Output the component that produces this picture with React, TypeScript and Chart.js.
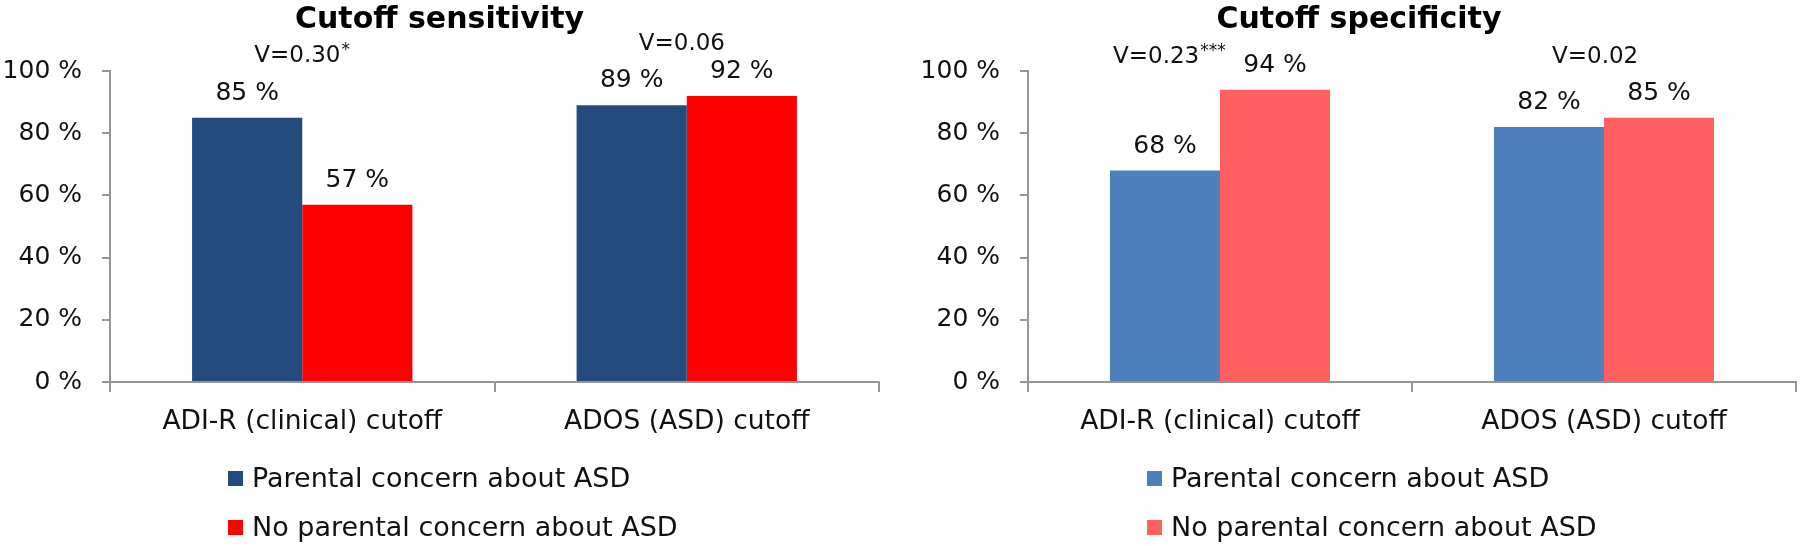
import React, { useEffect, useRef } from "react";
import { Chart, registerables } from "chart.js";

Chart.register(...registerables);

// ---------- data ----------
const categories = ["ADI-R (clinical) cutoff", "ADOS (ASD) cutoff"];
const seriesNames = ["Parental concern about ASD", "No parental concern about ASD"];
const sensitivityParental = [85, 89];
const sensitivityNoParental = [57, 92];
const specificityParental = [68, 82];
const specificityNoParental = [94, 85];
const sensitivityEffect = ["V=0.30*", "V=0.06"];
const specificityEffect = ["V=0.23***", "V=0.02"];
const yTickValues = [0, 20, 40, 60, 80, 100];
const sensitivityTitle = "Cutoff sensitivity";
const specificityTitle = "Cutoff specificity";

// ---------- placement / style ----------
const FONT = "'DejaVu Sans', 'Liberation Sans', Arial, sans-serif";
const AXIS_GREY = "#969696";
const TEXT = "#111111";
// effect-size note anchors: px offset from category centre, height in axis units
const sensitivityNotePlace = [
  { dx: -48, v: 102.9 },
  { dx: -48, v: 106.8 },
];
const specificityNotePlace = [
  { dx: -107, v: 102.6 },
  { dx: -52, v: 102.6 },
];

type PanelProps = {
  left: number;
  width: number;
  axisWidth: number;
  padRight: number;
  title: string;
  a: number[];
  b: number[];
  colors: [string, string];
  notes: string[];
  place: { dx: number; v: number }[];
  legendLeft: number;
};

const valueLabelPlugin = {
  id: "valueLabels",
  afterDatasetsDraw(chart: any) {
    const ctx = chart.ctx;
    ctx.save();
    ctx.font = `25px ${FONT}`;
    ctx.fillStyle = TEXT;
    ctx.textAlign = "center";
    ctx.textBaseline = "alphabetic";
    chart.data.datasets.forEach((ds: any, di: number) => {
      const meta = chart.getDatasetMeta(di);
      meta.data.forEach((bar: any, i: number) => {
        ctx.fillText(`${ds.data[i]} %`, bar.x, bar.y - 18);
      });
    });
    ctx.restore();
  },
};

const notePlugin = {
  id: "effectNotes",
  afterDraw(chart: any) {
    const opts = chart.options.plugins.effectNotes;
    if (!opts) return;
    const ctx = chart.ctx;
    const xs = chart.scales.x;
    const ys = chart.scales.y;
    ctx.save();
    ctx.fillStyle = TEXT;
    ctx.textAlign = "left";
    ctx.textBaseline = "alphabetic";
    opts.notes.forEach((txt: string, i: number) => {
      const p = opts.place[i];
      const x = xs.getPixelForValue(i) + p.dx;
      const y = ys.getPixelForValue(p.v);
      const m = txt.match(/^(.*?)(\**)$/);
      const main = m ? m[1] : txt;
      const stars = m ? m[2] : "";
      ctx.font = `23px ${FONT}`;
      ctx.fillText(main, x, y);
      if (stars) {
        const w = ctx.measureText(main).width;
        ctx.font = `17px ${FONT}`;
        ctx.fillText(stars, x + w + 1, y - 7);
      }
    });
    ctx.restore();
  },
};

function Panel(props: PanelProps) {
  const ref = useRef<HTMLCanvasElement | null>(null);
  useEffect(() => {
    if (!ref.current) return;
    const chart = new Chart(ref.current, {
      type: "bar",
      data: {
        labels: categories,
        datasets: [
          {
            label: seriesNames[0],
            data: props.a,
            backgroundColor: props.colors[0],
            borderWidth: 0,
            categoryPercentage: 0.573,
            barPercentage: 1,
          },
          {
            label: seriesNames[1],
            data: props.b,
            backgroundColor: props.colors[1],
            borderWidth: 0,
            categoryPercentage: 0.573,
            barPercentage: 1,
          },
        ],
      },
      options: {
        responsive: false,
        animation: false,
        layout: { padding: { left: 0, right: props.padRight, top: 0, bottom: 0 } },
        plugins: {
          legend: { display: false },
          tooltip: { enabled: false },
          title: {
            display: true,
            text: props.title,
            color: "#000",
            font: { family: FONT, size: 30, weight: "bold" },
            padding: { top: 2, bottom: 33 },
          },
          effectNotes: { notes: props.notes, place: props.place },
        } as any,
        scales: {
          x: {
            grid: {
              offset: true,
              drawOnChartArea: false,
              drawTicks: true,
              tickLength: 10,
              color: AXIS_GREY,
              lineWidth: 2,
            },
            border: { display: true, color: AXIS_GREY, width: 2 },
            ticks: {
              color: TEXT,
              font: { family: FONT, size: 26.5 },
              padding: 14,
              maxRotation: 0,
            },
            afterFit: (s: any) => {
              s.height = 164;
            },
          },
          y: {
            min: 0,
            max: 100,
            afterBuildTicks: (s: any) => {
              s.ticks = yTickValues.map((v) => ({ value: v }));
            },
            grid: {
              drawOnChartArea: false,
              drawTicks: true,
              tickLength: 8,
              color: AXIS_GREY,
              lineWidth: 2,
            },
            border: { display: true, color: AXIS_GREY, width: 2 },
            ticks: {
              color: TEXT,
              font: { family: FONT, size: 25 },
              padding: 20,
              callback: (v: any) => `${v} %`,
            },
            afterFit: (s: any) => {
              s.width = props.axisWidth;
            },
          },
        },
      },
      plugins: [valueLabelPlugin, notePlugin],
    } as any);
    return () => chart.destroy();
  }, []);

  return (
    <>
      <canvas
        ref={ref}
        width={props.width}
        height={546}
        style={{ position: "absolute", left: props.left, top: 0, width: props.width, height: 546 }}
      />
      <div
        style={{
          position: "absolute",
          left: props.legendLeft,
          top: 463,
          fontFamily: FONT,
          fontSize: 27,
          color: TEXT,
        }}
      >
        {seriesNames.map((n, i) => (
          <div
            key={n}
            style={{
              display: "flex",
              alignItems: "center",
              height: 30,
              lineHeight: "30px",
              marginBottom: i === 0 ? 19 : 0,
              whiteSpace: "nowrap",
            }}
          >
            <span
              style={{
                display: "inline-block",
                width: 15,
                height: 15,
                background: props.colors[i],
                marginRight: 9,
              }}
            />
            <span>{n}</span>
          </div>
        ))}
      </div>
    </>
  );
}

export default function App() {
  return (
    <div
      style={{
        position: "absolute",
        left: 0,
        top: 0,
        width: 1800,
        height: 546,
        background: "#fff",
        overflow: "hidden",
      }}
    >
      <Panel
        left={0}
        width={890}
        axisWidth={110}
        padRight={11}
        title={sensitivityTitle}
        a={sensitivityParental}
        b={sensitivityNoParental}
        colors={["#234A7D", "#FF0000"]}
        notes={sensitivityEffect}
        place={sensitivityNotePlace}
        legendLeft={228}
      />
      <Panel
        left={922}
        width={878}
        axisWidth={106}
        padRight={4}
        title={specificityTitle}
        a={specificityParental}
        b={specificityNoParental}
        colors={["#4F80BE", "#FF5F5F"]}
        notes={specificityEffect}
        place={specificityNotePlace}
        legendLeft={1147}
      />
    </div>
  );
}
